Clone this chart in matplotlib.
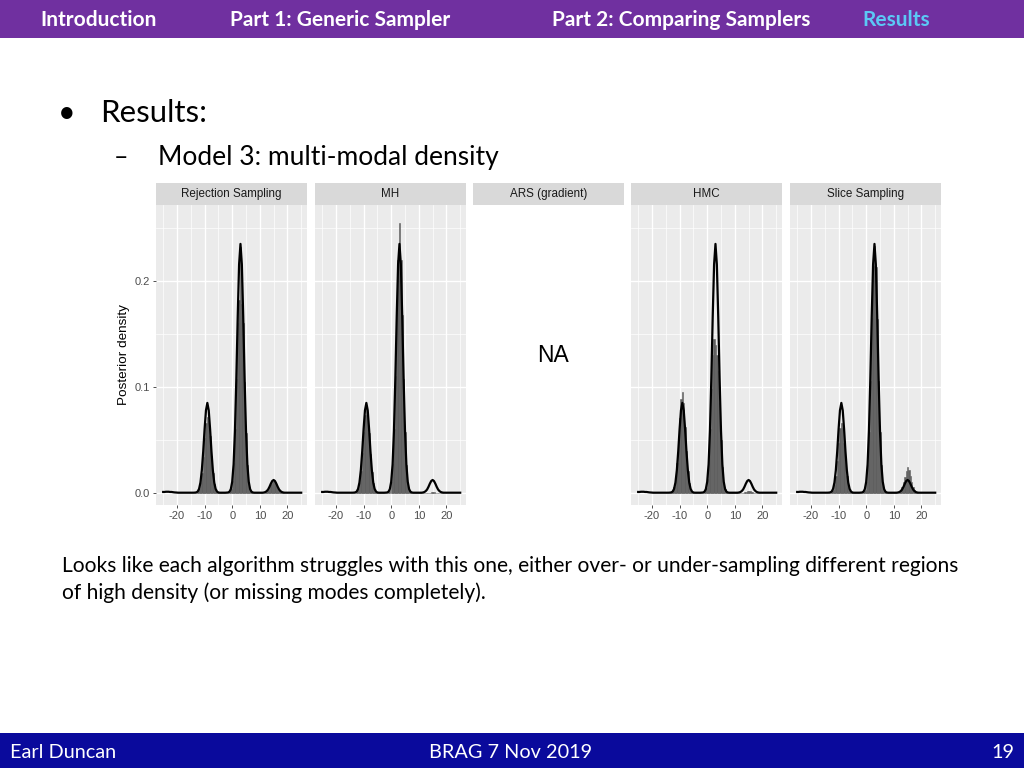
import numpy as np
import matplotlib
matplotlib.use("Agg")
import matplotlib.pyplot as plt
from matplotlib.patches import Rectangle

# true (target) density, evaluated on a 0.5 grid from -25 to 25
grid_x = np.arange(-25, 25.01, 0.5)
true_density = [
    0.001, 0.001, 0.0012, 0.0012, 0.0012, 0.001, 0.001, 0.0008, 0.0006, 0.0005, 0.0004,
    0.0003, 0.0003, 0.0003, 0.0003, 0.0003, 0.0003, 0.0003, 0.0003, 0.0003, 0.0003, 0.0003, 0.0003,
    0.0004, 0.0006, 0.0014, 0.0039, 0.0099, 0.0214, 0.039, 0.0602, 0.078, 0.085,
    0.078, 0.0602, 0.039, 0.0214, 0.0099, 0.0039, 0.0014, 0.0005, 0.0003,
    0.0003, 0.0003, 0.0003, 0.0003,
    0.0004, 0.0005, 0.0012, 0.0036, 0.0106, 0.027, 0.0588, 0.108, 0.1663, 0.2157, 0.235,
    0.2157, 0.1663, 0.108, 0.0588, 0.027, 0.0106, 0.0036, 0.0012, 0.0005,
    0.0003, 0.0003, 0.0003, 0.0003, 0.0003, 0.0003, 0.0003,
    0.0005, 0.0009, 0.0018, 0.0033, 0.0058, 0.0088, 0.0113, 0.0123,
    0.0113, 0.0088, 0.0058, 0.0033, 0.0018, 0.0009, 0.0005,
    0.0003, 0.0003, 0.0003, 0.0003, 0.0003, 0.0003, 0.0003, 0.0003, 0.0003, 0.0003, 0.0003, 0.0003, 0.0003,
]

# sampled histograms, bin width 0.5, centres -13.5 .. 18.5
bin_centers = np.arange(-13.5, 18.51, 0.5)
hist_rs = [
    0.0001, 0.0004, 0.0013, 0.0035, 0.009, 0.019, 0.034, 0.052, 0.066, 0.072,
    0.068, 0.054, 0.035, 0.019, 0.0085, 0.0033, 0.001, 0.0003, 0.0001,
    0, 0, 0, 0,
    0, 0.0002, 0.001, 0.0035, 0.011, 0.028, 0.06, 0.108, 0.16, 0.182,
    0.232, 0.178, 0.16, 0.105, 0.057, 0.026, 0.01, 0.0032, 0.0009, 0.0002,
    0, 0, 0, 0, 0, 0, 0,
    0.0002, 0.0005, 0.0014, 0.003, 0.0055, 0.0085, 0.0105, 0.0115,
    0.0105, 0.008, 0.005, 0.0028, 0.0013, 0.0005, 0.0002,
]
hist_mh = [
    0.0001, 0.0003, 0.0012, 0.0036, 0.0095, 0.021, 0.038, 0.058, 0.074, 0.08,
    0.074, 0.057, 0.037, 0.02, 0.009, 0.0035, 0.0011, 0.0003, 0.0001,
    0, 0, 0, 0,
    0, 0.0002, 0.0009, 0.0033, 0.0105, 0.027, 0.06, 0.11, 0.17, 0.22,
    0.255, 0.22, 0.168, 0.108, 0.058, 0.026, 0.01, 0.0032, 0.0009, 0.0002,
    0, 0, 0, 0, 0, 0, 0,
    0, 0, 0, 0, 0.0002, 0.0004, 0.0006, 0.0008,
    0.0006, 0.0004, 0.0002, 0, 0, 0, 0,
]
hist_hmc = [
    0.0003, 0.0008, 0.0025, 0.006, 0.014, 0.028, 0.048, 0.071, 0.089, 0.095,
    0.085, 0.062, 0.04, 0.021, 0.0095, 0.0035, 0.0011, 0.0003, 0.0001,
    0, 0, 0, 0,
    0, 0.0003, 0.0012, 0.0045, 0.013, 0.031, 0.06, 0.098, 0.13, 0.145,
    0.14, 0.13, 0.115, 0.085, 0.05, 0.025, 0.01, 0.0035, 0.001, 0.0002,
    0, 0, 0, 0, 0, 0, 0,
    0, 0, 0.0001, 0.0003, 0.0006, 0.001, 0.0015, 0.0018,
    0.0015, 0.001, 0.0006, 0.0003, 0.0001, 0, 0,
]
hist_slice = [
    0.0001, 0.0002, 0.0009, 0.0029, 0.0076, 0.0165, 0.03, 0.047, 0.061, 0.066,
    0.061, 0.047, 0.03, 0.0165, 0.0075, 0.0029, 0.0009, 0.0002, 0.0001,
    0, 0, 0, 0,
    0, 0.0002, 0.0009, 0.0033, 0.0102, 0.0265, 0.058, 0.106, 0.165, 0.214,
    0.233, 0.213, 0.164, 0.106, 0.058, 0.0265, 0.0102, 0.0033, 0.0009, 0.0002,
    0, 0, 0, 0, 0, 0, 0,
    0.0003, 0.0009, 0.0025, 0.0055, 0.01, 0.0155, 0.021, 0.025,
    0.022, 0.0165, 0.0105, 0.0058, 0.0027, 0.001, 0.0003,
]

panel_titles = ["Rejection Sampling", "MH", "ARS (gradient)", "HMC", "Slice Sampling"]
panel_hists = [hist_rs, hist_mh, None, hist_hmc, hist_slice]
panel_left_px = [156, 315, 473, 631, 790]

x_ticks = [-20, -10, 0, 10, 20]
y_ticks = [0.0, 0.1, 0.2]
y_tick_labels = ["0.0", "0.1", "0.2"]

nav_items = ["Introduction", "Part 1: Generic Sampler", "Part 2: Comparing Samplers", "Results"]
nav_x_px = [40, 230, 552, 862]

W, H = 1024, 768
FONT = "Lato"


def fx(px):
    return px / W


def fy(py):
    return 1 - py / H


fig = plt.figure(figsize=(10.24, 7.68), dpi=100)
fig.patch.set_facecolor("white")

# header bar
fig.add_artist(Rectangle((0, fy(38)), 1, 38 / H, transform=fig.transFigure,
                         facecolor="#7030A0", edgecolor="none"))
for name, px in zip(nav_items, nav_x_px):
    col = "#5BC8F5" if name == "Results" else "white"
    fig.text(fx(px), fy(20), name, color=col, fontsize=15, fontweight="bold",
             family=FONT, va="center", ha="left")

# footer bar
fig.add_artist(Rectangle((0, 0), 1, 35 / H, transform=fig.transFigure,
                         facecolor="#0A0A9C", edgecolor="none"))
fig.text(fx(10), fy(752), "Earl Duncan", color="white", fontsize=14.3, family=FONT, va="center")
fig.text(fx(511), fy(752), "BRAG 7 Nov 2019", color="white", fontsize=14.3, family=FONT,
         va="center", ha="center")
fig.text(fx(1014), fy(752), "19", color="white", fontsize=14.3, family=FONT, va="center", ha="right")

# slide text
fig.text(fx(58), fy(113), "\u2022", fontsize=22, family=FONT, va="center")
fig.text(fx(100), fy(113), "Results:", fontsize=22.5, family=FONT, va="center")
fig.text(fx(114), fy(157), "\u2013", fontsize=18, family=FONT, va="center")
fig.text(fx(158), fy(157), "Model 3: multi-modal density", fontsize=19, family=FONT, va="center")
fig.text(fx(62), fy(566), "Looks like each algorithm struggles with this one, either over- or "
         "under-sampling different regions", fontsize=15.1, family=FONT, va="center")
fig.text(fx(62), fy(593), "of high density (or missing modes completely).", fontsize=15.1,
         family=FONT, va="center")

# facet panels
pw, top, strip_h, bottom = 151, 205, 22, 505
for i, (title, hist, left) in enumerate(zip(panel_titles, panel_hists, panel_left_px)):
    # strip
    sax = fig.add_axes([fx(left), fy(top), pw / W, strip_h / H])
    sax.set_facecolor("#D9D9D9")
    sax.set_xticks([])
    sax.set_yticks([])
    for s in sax.spines.values():
        s.set_visible(False)
    sax.text(0.5, 0.5, title, ha="center", va="center", fontsize=8.4,
             family="Liberation Sans", color="#1A1A1A", transform=sax.transAxes)

    ax = fig.add_axes([fx(left), fy(bottom), pw / W, (bottom - top) / H])
    for s in ax.spines.values():
        s.set_visible(False)
    if hist is None:
        ax.set_facecolor("white")
        ax.set_xticks([])
        ax.set_yticks([])
        ax.text(0.53, 0.5, "NA", ha="center", va="center", fontsize=16.5,
                family="Liberation Sans", transform=ax.transAxes)
        continue

    ax.set_facecolor("#EBEBEB")
    ax.bar(bin_centers, hist, width=0.5, color="#5f5f5f", edgecolor="#5f5f5f",
           linewidth=0.4, zorder=2)
    ax.plot(grid_x, true_density, color="black", lw=1.6, zorder=3)
    ax.set_xlim(-27.6, 27.1)
    ax.set_ylim(-0.0113, 0.2717)
    ax.set_xticks(x_ticks)
    ax.set_xticklabels([str(t) for t in x_ticks])
    ax.set_xticks([-25, -15, -5, 5, 15, 25], minor=True)
    ax.set_yticks(y_ticks)
    ax.set_yticks([0.05, 0.15, 0.25], minor=True)
    ax.grid(which="major", color="white", lw=1.0, zorder=0)
    ax.grid(which="minor", color="white", lw=0.5, zorder=0)
    ax.set_axisbelow(True)
    ax.tick_params(which="minor", length=0)
    ax.tick_params(which="major", length=2.5, width=0.6, color="#333333",
                   labelsize=8, labelcolor="#4D4D4D", pad=2)
    for lab in ax.get_xticklabels() + ax.get_yticklabels():
        lab.set_family("Liberation Sans")
    if i == 0:
        ax.set_yticklabels(y_tick_labels)
        ax.set_ylabel("Posterior density", fontsize=9.7, family="Liberation Sans", labelpad=3)
    else:
        ax.tick_params(axis="y", length=0, labelleft=False)

fig.savefig("out.png", dpi=100)
